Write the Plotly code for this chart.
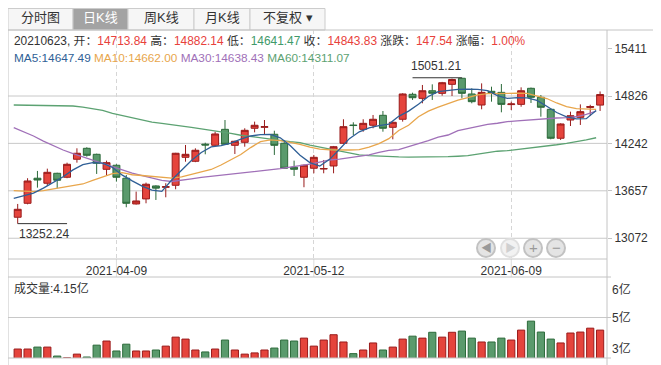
import plotly.graph_objects as go

# ---------------- data ----------------
dates = ["2021-03-25", "2021-03-26", "2021-03-29", "2021-03-30", "2021-03-31",
         "2021-04-01", "2021-04-02", "2021-04-06", "2021-04-07", "2021-04-08",
         "2021-04-09", "2021-04-12", "2021-04-13", "2021-04-14", "2021-04-15",
         "2021-04-16", "2021-04-19", "2021-04-20", "2021-04-21", "2021-04-22",
         "2021-04-23", "2021-04-26", "2021-04-27", "2021-04-28", "2021-04-29",
         "2021-04-30", "2021-05-06", "2021-05-07", "2021-05-10", "2021-05-11",
         "2021-05-12", "2021-05-13", "2021-05-14", "2021-05-17", "2021-05-18",
         "2021-05-19", "2021-05-20", "2021-05-21", "2021-05-24", "2021-05-25",
         "2021-05-26", "2021-05-27", "2021-05-28", "2021-05-31", "2021-06-01",
         "2021-06-02", "2021-06-03", "2021-06-04", "2021-06-07", "2021-06-08",
         "2021-06-09", "2021-06-10", "2021-06-11", "2021-06-15", "2021-06-16",
         "2021-06-17", "2021-06-18", "2021-06-21", "2021-06-22", "2021-06-23"]

opens = [13331, 13503, 13812, 13750, 13873, 13824, 14046, 14181, 14107, 13922,
         13972, 13812, 13495, 13557, 13717, 13700, 13725, 14070, 14021, 14232,
         14218, 14415, 14218, 14255, 14428, 14440, 14354, 14243, 13947, 13824,
         13935, 13925, 13963, 14243, 14468, 14415, 14465, 14588, 14440, 14539,
         14847, 14797, 14891, 14859, 14970, 15045, 14851, 14715, 14884, 14871,
         14720, 14723, 14921, 14810, 14662, 14305, 14530, 14563, 14685, 14713.84]
highs = [13495, 13812, 13902, 13930, 13880, 14004, 14181, 14194, 14115, 14029,
         13985, 13852, 13647, 13758, 13725, 13750, 14125, 14222, 14181, 14250,
         14386, 14530, 14275, 14428, 14510, 14530, 14398, 14284, 14029, 13980,
         14099, 14037, 14210, 14539, 14502, 14539, 14592, 14641, 14510, 14860,
         14867, 14962, 14970, 15000, 15040, 15051.21, 14921, 14982, 14941, 14974,
         14756, 14933, 14930, 14838, 14670, 14489, 14633, 14723, 14718, 14882.14]
lows = [13252.24, 13490, 13696, 13717, 13688, 13812, 14004, 14078, 13865, 13848,
        13770, 13454, 13488, 13503, 13544, 13577, 13676, 14016, 14010, 14107,
        14210, 14225, 14111, 14201, 14378, 14354, 14099, 13930, 13840, 13701,
        13873, 13873, 13873, 14235, 14345, 14386, 14428, 14386, 14292, 14510,
        14777, 14736, 14777, 14830, 14826, 14797, 14736, 14662, 14756, 14625,
        14653, 14694, 14740, 14571, 14292, 14284, 14456, 14469, 14580, 14641.47]
closes = [13429, 13778, 13790, 13885, 13787, 13984, 14120, 14095, 13997, 14004,
          13824, 13503, 13532, 13738, 13690, 13708, 14120, 14107, 14157, 14222,
          14358, 14231, 14268, 14403, 14465, 14448, 14218, 13935, 13922, 13972,
          14070, 13932, 14201, 14448, 14462, 14489, 14539, 14428, 14502, 14851,
          14805, 14891, 14860, 14990, 15030, 14859, 14756, 14871, 14867, 14723,
          14728, 14891, 14810, 14687, 14305, 14481, 14583, 14633, 14696.29, 14843.83]

ma5 = [13565, 13595, 13628, 13690, 13760, 13830, 13915, 13980, 14005, 13998,
       13945, 13850, 13780, 13715, 13665, 13650, 13790, 13915, 14030, 14130,
       14198, 14215, 14245, 14295, 14333, 14350, 14354, 14310, 14215, 14095,
       14005, 13963, 14045, 14170, 14300, 14385, 14432, 14460, 14480, 14575,
       14640, 14725, 14820, 14880, 14896, 14907, 14911, 14909, 14893, 14830,
       14797, 14805, 14802, 14772, 14700, 14622, 14568, 14543, 14546, 14647.49]
ma10 = [13659, 13653, 13647, 13660, 13678, 13696, 13718, 13741, 13785, 13830,
        13870, 13880, 13855, 13846, 13838, 13825, 13814, 13830, 13860, 13890,
        13920, 13975, 14040, 14105, 14190, 14263, 14284, 14276, 14255, 14231,
        14195, 14172, 14163, 14160, 14160, 14166, 14195, 14240, 14300, 14400,
        14465, 14570, 14640, 14690, 14730, 14775, 14805, 14840, 14855, 14859,
        14860, 14860, 14859, 14830, 14795, 14740, 14695, 14670, 14662, 14662.00]
ma30 = [14435, 14385, 14333, 14270, 14210, 14160, 14115, 14075, 14037, 13990,
        13950, 13910, 13876, 13845, 13812, 13785, 13772, 13785, 13805, 13822,
        13835, 13848, 13862, 13877, 13893, 13905, 13918, 13930, 13950, 13963,
        13985, 14010, 14037, 14048, 14065, 14078, 14100, 14130, 14155, 14165,
        14200, 14240, 14275, 14320, 14345, 14400, 14425, 14450, 14475, 14490,
        14510, 14520, 14530, 14540, 14548, 14555, 14560, 14570, 14600, 14638.43]
ma60 = [14715, 14714, 14712, 14710, 14708, 14705, 14703, 14690, 14670, 14650,
        14613, 14585, 14560, 14537, 14505, 14488, 14475, 14458, 14440, 14422,
        14405, 14390, 14365, 14342, 14328, 14315, 14300, 14280, 14263, 14251,
        14220, 14194, 14175, 14145, 14120, 14099, 14090, 14082, 14078, 14075,
        14073, 14072, 14072, 14073, 14078, 14083, 14090, 14110, 14128, 14145,
        14152, 14165, 14180, 14190, 14205, 14225, 14243, 14260, 14285, 14311.07]

volumes = [3.37, 3.37, 3.45, 3.45, 3.08, 3.01, 3.16, 3.04, 3.53, 3.70,
           3.29, 3.57, 3.29, 3.29, 3.33, 3.49, 3.86, 3.78, 3.33, 3.25,
           3.37, 3.74, 3.33, 3.16, 3.21, 3.33, 3.41, 3.74, 3.70, 3.82,
           3.49, 3.74, 3.96, 3.66, 3.18, 3.33, 3.62, 3.33, 3.45, 3.78,
           3.90, 3.82, 4.06, 3.86, 4.06, 4.11, 3.82, 3.66, 3.66, 3.82,
           3.74, 4.15, 4.52, 4.07, 3.78, 3.62, 4.03, 4.07, 4.23, 4.15]

price_ticks = [13072, 13657, 14242, 14826, 15411]
date_ticks = ["2021-04-09", "2021-05-12", "2021-06-09"]
vol_tick_text = ["6亿", "5亿", "3亿"]
tabs = ["分时图", "日K线", "周K线", "月K线", "不复权 ▾"]
selected_tab = "日K线"

# ---------------- style ----------------
FONT = "Liberation Sans, Noto Sans CJK SC, sans-serif"
TXT = "#333333"
RED_FILL, RED_LINE = "#e5443c", "#991b1b"
GREEN_FILL, GREEN_LINE = "#5a9a6c", "#2c6a3a"
RED_TXT, GREEN_TXT = "#e8413b", "#3f9a6a"
MA_COLORS = {"MA5": "#2f5f96", "MA10": "#e8a64c", "MA30": "#a070b8", "MA60": "#5ca272"}
GRID = "#c8c8c8"
FRAME = "#c4c4c4"

# page has an 8px body margin: window pixel = figure pixel + 8
PAGE = 8
WIN_W, WIN_H = 661, 365
W, H = WIN_W - PAGE, WIN_H - PAGE
L, R, T, B = 8, 607, 30, 358          # plot box in window pixels
MAIN_BOTTOM, VOL_TOP = 259, 277

def px(x):
    return (x - L) / (R - L)

def py(y):
    return (B - y) / (B - T)

n = len(dates)
XR = [-0.983, n - 1 + 0.70]
SHIFT = 0.4
VOL_RANGE = [3.0, 6.34]
PRICE_RANGE = [12816, 15640]

fig = go.Figure()

fig.add_trace(go.Candlestick(
    x=dates, open=opens, high=highs, low=lows, close=closes,
    increasing=dict(fillcolor=RED_FILL, line=dict(color=RED_LINE, width=1)),
    decreasing=dict(fillcolor=GREEN_FILL, line=dict(color=GREEN_LINE, width=1)),
    whiskerwidth=0, xaxis="x", yaxis="y", hoverinfo="skip"))

for name, vals in [("MA60", ma60), ("MA30", ma30), ("MA10", ma10), ("MA5", ma5)]:
    fig.add_trace(go.Scatter(x=dates, y=vals, mode="lines",
                             line=dict(color=MA_COLORS[name], width=1.3),
                             xaxis="x3", yaxis="y", hoverinfo="skip"))

up = [c >= o for o, c in zip(opens, closes)]
fig.add_trace(go.Bar(
    x=dates, y=volumes,
    marker=dict(color=[RED_FILL if u else GREEN_FILL for u in up],
                line=dict(color=[RED_LINE if u else GREEN_LINE for u in up], width=1)),
    xaxis="x2", yaxis="y2", hoverinfo="skip"))

shapes = []
for v in price_ticks[:-1]:
    shapes.append(dict(type="line", xref="x domain", yref="y", x0=0, x1=1, y0=v, y1=v,
                       line=dict(color=GRID, width=1), layer="below"))
vm = (VOL_RANGE[0] + VOL_RANGE[1]) / 2
shapes.append(dict(type="line", xref="x2 domain", yref="y2", x0=0, x1=1, y0=vm, y1=vm,
                   line=dict(color=GRID, width=1), layer="below"))
for d in date_ticks:
    shapes.append(dict(type="line", xref="x", yref="paper", x0=dates.index(d), x1=dates.index(d),
                       y0=py(VOL_TOP), y1=py(MAIN_BOTTOM), line=dict(color="#dddddd", width=1),
                       layer="below"))
for (x0, y0, x1, y1) in [(L, T, L, WIN_H), (R, T, R, WIN_H), (L, T, 657, T),
                         (L, MAIN_BOTTOM, R, MAIN_BOTTOM), (L, VOL_TOP, R, VOL_TOP), (L, B, R, B)]:
    shapes.append(dict(type="line", xref="paper", yref="paper",
                       x0=px(x0), x1=px(x1), y0=py(y0), y1=py(y1),
                       line=dict(color=FRAME, width=1)))
for yy in [VOL_TOP, (VOL_TOP + B) / 2, B]:
    shapes.append(dict(type="line", xref="paper", yref="paper", x0=px(R), x1=px(R + 4),
                       y0=py(yy), y1=py(yy), line=dict(color=FRAME, width=1)))

annotations = []
tab_edges = [8, 73, 128, 194, 250, 325]
for i, t in enumerate(tabs):
    sel = (t == selected_tab)
    shapes.append(dict(type="rect", xref="paper", yref="paper",
                       x0=px(tab_edges[i]), x1=px(tab_edges[i + 1]), y0=py(T), y1=py(PAGE + 0.5),
                       fillcolor="#a3a3a3" if sel else "#f6f6f6",
                       line=dict(color="#cccccc", width=1), layer="below"))
    annotations.append(dict(xref="paper", yref="paper",
                            x=px((tab_edges[i] + tab_edges[i + 1]) / 2), y=py(18),
                            text=t, showarrow=False, xanchor="center", yanchor="middle",
                            font=dict(size=13, color="white" if sel else TXT, family=FONT)))

prev_close = closes[-2]
chg = closes[-1] - prev_close
pct = chg / prev_close * 100

def col(v):
    return RED_TXT if v >= prev_close else GREEN_TXT

def span(v, c, fmt="{:.2f}"):
    return f"<span style='color:{c}'>{fmt.format(v)}</span>"

line1 = (f"{dates[-1].replace('-', '')}, 开：{span(opens[-1], col(opens[-1]))} "
         f"高：{span(highs[-1], col(highs[-1]))} 低：{span(lows[-1], col(lows[-1]))} "
         f"收：{span(closes[-1], col(closes[-1]))} 涨跌：{span(chg, RED_TXT if chg >= 0 else GREEN_TXT)} "
         f"涨幅：{span(pct, RED_TXT if pct >= 0 else GREEN_TXT, '{:.2f}%')}")
annotations.append(dict(xref="paper", yref="paper", x=px(12), y=py(41), text=line1,
                        showarrow=False, xanchor="left", yanchor="middle",
                        font=dict(size=11.9, color=TXT, family=FONT)))
line2 = " ".join(f"<span style='color:{MA_COLORS[k]}'>{k}:{v[-1]:.2f}</span>"
                 for k, v in [("MA5", ma5), ("MA10", ma10), ("MA30", ma30), ("MA60", ma60)])
annotations.append(dict(xref="paper", yref="paper", x=px(12), y=py(58), text=line2,
                        showarrow=False, xanchor="left", yanchor="middle",
                        font=dict(size=11.8, color=TXT, family=FONT)))
annotations.append(dict(xref="paper", yref="paper", x=px(12), y=py(288),
                        text=f"成交量:{volumes[-1]:.2f}亿", showarrow=False,
                        xanchor="left", yanchor="middle",
                        font=dict(size=12, color=TXT, family=FONT)))

for txt, yv, anc, ys in zip(vol_tick_text, [VOL_RANGE[1], vm, VOL_RANGE[0]],
                            ["top", "middle", "bottom"], [-3, 0, 0]):
    annotations.append(dict(xref="paper", yref="y2", x=px(610), y=yv, text=txt,
                            showarrow=False, xanchor="left", yanchor=anc, yshift=ys,
                            font=dict(size=12, color=TXT, family=FONT)))

imax = max(range(n), key=lambda i: highs[i])
imin = min(range(n), key=lambda i: lows[i])
annotations.append(dict(xref="x", yref="y", x=dates[imax], y=highs[imax],
                        text=f"{highs[imax]:.2f}", showarrow=False, xanchor="right",
                        yanchor="bottom", yshift=3, xshift=1,
                        font=dict(size=12, color=TXT, family=FONT)))
shapes.append(dict(type="line", xref="x", yref="y", x0=imax - 5.0, x1=imax,
                   y0=highs[imax], y1=highs[imax], line=dict(color=TXT, width=1)))
annotations.append(dict(xref="x", yref="y", x=dates[imin], y=lows[imin],
                        text=f"{lows[imin]:.2f}", showarrow=False, xanchor="left",
                        yanchor="top", yshift=-1, xshift=-1,
                        font=dict(size=12, color=TXT, family=FONT)))
shapes.append(dict(type="line", xref="x", yref="y", x0=imin, x1=imin + 5.0,
                   y0=lows[imin], y1=lows[imin], line=dict(color=TXT, width=1)))

for bx, icon, dim in [(486, "◀", True), (510, "▶", False), (533, "+", True), (556, "−", True)]:
    shapes.append(dict(type="circle", xref="paper", yref="paper",
                       xsizemode="pixel", ysizemode="pixel",
                       xanchor=px(bx), yanchor=py(248), x0=-9, x1=9, y0=-9, y1=9,
                       fillcolor="#e4e4e4" if dim else "#f2f2f2",
                       line=dict(color="#c2c2c2" if dim else "#e0e0e0", width=2)))
    annotations.append(dict(xref="paper", yref="paper", x=px(bx), y=py(248), text=icon,
                            showarrow=False, xanchor="center", yanchor="middle",
                            font=dict(size=11 if icon in "◀▶" else 15,
                                      color="#999999" if dim else "#d0d0d0", family=FONT)))

fig.update_layout(
    width=W, height=H,
    margin=dict(l=L - PAGE, r=W - (R - PAGE), t=T - PAGE, b=H - (B - PAGE)),
    paper_bgcolor="white", plot_bgcolor="white",
    showlegend=False, bargap=0.27, boxgap=0.3, boxgroupgap=0,
    font=dict(family=FONT, size=12, color=TXT),
    xaxis=dict(domain=[0, 1], anchor="y", type="category", range=XR,
               categoryorder="array", categoryarray=dates,
               tickvals=date_ticks, ticktext=date_ticks, showgrid=True,
               gridcolor="#d6d6d6", griddash="4px,3px", gridwidth=1,
               showline=False, zeroline=False, ticks="", ticklabelstandoff=3,
               tickfont=dict(size=12, color=TXT), rangeslider=dict(visible=False),
               fixedrange=True),
    xaxis3=dict(overlaying="x", anchor="y", type="category",
                categoryorder="array", categoryarray=dates,
                range=[XR[0] + SHIFT, XR[1] + SHIFT], visible=False, fixedrange=True),
    yaxis=dict(domain=[py(MAIN_BOTTOM), 1], anchor="x", side="right", range=PRICE_RANGE,
               tickvals=price_ticks, ticktext=[str(v) for v in price_ticks],
               showgrid=False, zeroline=False, showline=False,
               ticks="outside", ticklen=4, tickcolor=FRAME,
               tickfont=dict(size=12, color=TXT), fixedrange=True),
    xaxis2=dict(domain=[0, 1], anchor="y2", type="category", range=XR,
                categoryorder="array", categoryarray=dates,
                showticklabels=False, showgrid=False, zeroline=False, showline=False,
                ticks="", fixedrange=True),
    yaxis2=dict(domain=[0, py(VOL_TOP)], anchor="x2", side="right", range=VOL_RANGE,
                showticklabels=False, showgrid=False, zeroline=False, showline=False,
                ticks="", fixedrange=True),
    shapes=shapes, annotations=annotations,
)

fig.write_html("out.html")
